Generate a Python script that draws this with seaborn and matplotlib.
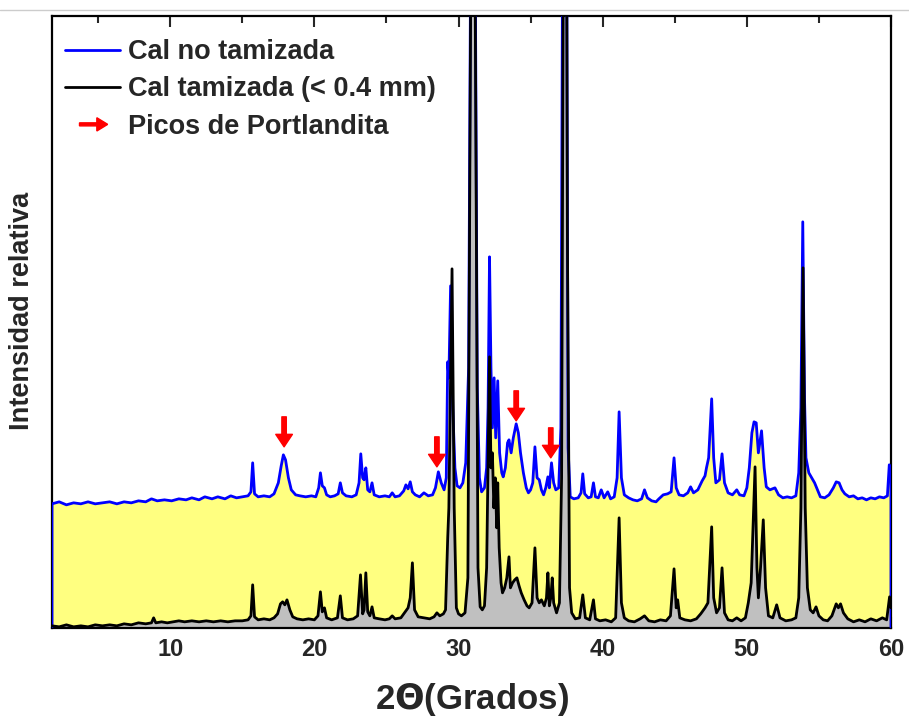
import numpy as np
import pandas as pd
import seaborn as sns
import matplotlib.pyplot as plt
import matplotlib.patches as mpatches
from matplotlib.lines import Line2D
from matplotlib.legend_handler import HandlerPatch

# Cal no tamizada (blue), two-theta in degrees and relative intensity
blue_x = [1.8, 2.3, 2.8, 3.3, 3.8, 4.3, 4.8, 5.3, 5.8, 6.3, 6.8, 7.3, 7.8, 8.3, 8.7, 9.1, 9.6, 10.1, 10.6, 11.1,
          11.5, 12.0, 12.4, 12.9, 13.3, 13.8, 14.2, 14.6, 15.0, 15.4, 15.6, 15.72, 15.85, 16.1, 16.5, 16.9, 17.2,
          17.5, 17.7, 17.85, 18.0, 18.2, 18.4, 18.7, 19.0, 19.4, 19.8, 20.1, 20.3, 20.42, 20.55, 20.7, 20.85, 21.1,
          21.4, 21.65, 21.8, 21.95, 22.2, 22.6, 22.9, 23.1, 23.22, 23.35, 23.45, 23.57, 23.7, 23.85, 24.0, 24.15,
          24.5, 24.9, 25.2, 25.4, 25.6, 25.9, 26.2, 26.35, 26.5, 26.65, 26.8, 27.0, 27.3, 27.6, 27.9, 28.2, 28.4,
          28.6, 28.8, 29.0, 29.15, 29.25, 29.33, 29.45, 29.6, 29.75, 29.9, 30.1, 30.3, 30.5, 30.7, 30.85, 31.0,
          31.15, 31.3, 31.45, 31.6, 31.8, 31.95, 32.05, 32.15, 32.25, 32.35, 32.47, 32.58, 32.72, 32.85, 33.0,
          33.1, 33.25, 33.4, 33.5, 33.65, 33.8, 34.0, 34.15, 34.3, 34.5, 34.7, 34.85, 35.0, 35.15, 35.3, 35.45,
          35.6, 35.75, 35.9, 36.05, 36.2, 36.3, 36.45, 36.6, 36.75, 36.95, 37.1, 37.25, 37.35, 37.5, 37.6, 37.75,
          38.0, 38.3, 38.5, 38.62, 38.75, 39.0, 39.2, 39.36, 39.5, 39.7, 39.9, 40.1, 40.35, 40.55, 40.8, 41.0,
          41.14, 41.3, 41.5, 41.8, 42.1, 42.4, 42.7, 42.9, 43.1, 43.4, 43.7, 43.9, 44.2, 44.5, 44.75, 44.95, 45.1,
          45.3, 45.6, 45.9, 46.1, 46.3, 46.6, 46.9, 47.1, 47.2, 47.35, 47.56, 47.7, 47.85, 48.1, 48.28, 48.45,
          48.7, 49.0, 49.3, 49.5, 49.8, 50.0, 50.17, 50.35, 50.5, 50.65, 50.8, 51.02, 51.2, 51.35, 51.6, 51.95,
          52.2, 52.5, 52.8, 53.1, 53.4, 53.6, 53.75, 53.88, 54.0, 54.1, 54.3, 54.5, 54.7, 54.9, 55.1, 55.4, 55.7,
          56.0, 56.2, 56.4, 56.6, 56.8, 57.1, 57.4, 57.7, 58.0, 58.3, 58.6, 58.9, 59.2, 59.5, 59.75, 59.88, 60.0]
blue_y = [124, 126, 123, 125, 124, 126, 124, 125, 126, 124, 126, 125, 127, 126, 129, 127, 128, 127, 129, 128,
          130, 128, 131, 129, 131, 129, 132, 130, 131, 132, 136, 165, 134, 131, 132, 131, 134,
          145, 162, 173, 168, 150, 138, 133, 132, 131, 132, 131, 140, 155, 142, 140, 133, 131,
          132, 134, 145, 135, 132, 131, 133, 145, 174, 150, 148, 160, 138, 136, 145, 133,
          131, 132, 131, 135, 131, 132, 137, 143, 139, 146, 136, 133, 131, 135, 132, 133, 140,
          156, 145, 138, 150, 266, 250, 342, 220, 160, 142, 140, 145, 165, 260, 700, 1200,
          700, 240, 150, 136, 140, 160, 220, 371, 260, 200, 250, 190, 247, 175, 155,
          151, 160, 185, 188, 175, 190, 204, 195, 175, 155, 140, 135, 138, 145, 181, 150,
          148, 138, 133, 140, 151, 140, 165, 145, 138, 140, 200, 800, 1400, 700, 180, 131,
          129, 130, 135, 154, 134, 130, 131, 145, 131, 130, 138, 130, 136, 129, 131, 150,
          216, 150, 133, 130, 128, 127, 129, 138, 130, 127, 126, 129, 133, 134, 136, 170, 140,
          133, 132, 135, 141, 135, 138, 147, 152, 160, 170, 229, 170, 145, 148, 174, 145,
          135, 133, 138, 133, 132, 140, 160, 195, 206, 205, 175, 197, 160, 141, 138, 140,
          133, 130, 131, 130, 132, 155, 220, 406, 230, 170, 155, 150, 145, 138, 131, 130, 133,
          140, 146, 145, 138, 134, 131, 132, 129, 130, 128, 130, 129, 131, 130, 132, 163, 160]

# Cal tamizada (< 0.4 mm) (black)
black_x = [1.8, 2.3, 2.8, 3.3, 3.8, 4.3, 4.8, 5.3, 5.8, 6.3, 6.8, 7.3, 7.8, 8.3, 8.7, 8.85, 9.0, 9.4, 9.8, 10.2,
           10.6, 11.0, 11.5, 12.0, 12.5, 13.0, 13.5, 14.0, 14.5, 15.0, 15.4, 15.6, 15.72, 15.85, 16.1, 16.5, 16.9,
           17.2, 17.45, 17.65, 17.8, 17.95, 18.1, 18.3, 18.5, 18.8, 19.2, 19.6, 20.0, 20.25, 20.42, 20.55, 20.7,
           20.85, 21.2, 21.6, 21.8, 21.95, 22.3, 22.7, 23.0, 23.2, 23.35, 23.45, 23.57, 23.7, 23.85, 24.0, 24.15,
           24.5, 24.9, 25.2, 25.4, 25.6, 26.0, 26.3, 26.5, 26.65, 26.8, 26.95, 27.2, 27.6, 28.0, 28.3, 28.5, 28.7,
           28.95, 29.1, 29.25, 29.33, 29.45, 29.55, 29.7, 29.85, 30.0, 30.2, 30.45, 30.65, 30.8, 31.0, 31.2,
           31.35, 31.5, 31.65, 31.8, 31.95, 32.15, 32.25, 32.35, 32.45, 32.55, 32.65, 32.72, 32.82, 32.95, 33.05,
           33.2, 33.35, 33.5, 33.6, 33.75, 33.9, 34.05, 34.2, 34.35, 34.55, 34.75, 34.9, 35.1, 35.3, 35.45, 35.6,
           35.75, 35.95, 36.1, 36.2, 36.3, 36.4, 36.5, 36.6, 36.8, 37.0, 37.15, 37.3, 37.4, 37.55, 37.7, 37.85,
           38.1, 38.4, 38.62, 38.8, 39.1, 39.36, 39.5, 39.8, 40.2, 40.6, 40.9, 41.14, 41.3, 41.5, 41.8, 42.2, 42.6,
           42.9, 43.2, 43.6, 44.0, 44.4, 44.7, 44.95, 45.1, 45.2, 45.35, 45.7, 46.1, 46.5, 46.8, 47.1, 47.3, 47.56,
           47.7, 47.9, 48.1, 48.28, 48.45, 48.7, 49.0, 49.3, 49.6, 49.9, 50.1, 50.3, 50.57, 50.7, 50.8, 50.95,
           51.14, 51.3, 51.5, 51.8, 52.07, 52.3, 52.7, 53.1, 53.4, 53.6, 53.75, 53.9, 54.05, 54.2, 54.4, 54.6,
           54.8, 55.0, 55.3, 55.6, 55.9, 56.2, 56.35, 56.5, 56.7, 57.0, 57.4, 57.8, 58.2, 58.6, 59.0, 59.4, 59.7,
           59.9, 60.0]
black_y = [2, 1, 3, 1, 2, 1, 3, 2, 3, 2, 4, 3, 5, 4, 5, 10, 5, 6, 5, 6,
           7, 6, 7, 6, 7, 6, 7, 6, 7, 7, 8, 12, 43, 11, 8, 9, 8,
           10, 14, 24, 26, 23, 28, 18, 11, 9, 8, 9, 8, 12, 36, 16, 20,
           10, 8, 10, 32, 10, 8, 9, 12, 53, 14, 18, 55, 16, 12, 21, 10,
           9, 8, 9, 12, 9, 10, 16, 20, 30, 65, 18, 11, 10, 9, 11, 15, 12,
           14, 18, 90, 120, 250, 359, 120, 20, 14, 12, 15, 50, 500, 1100, 500,
           60, 21, 18, 22, 60, 271, 160, 175, 120, 150, 100, 145, 80, 45, 35,
           40, 50, 71, 40, 45, 48, 50, 42, 35, 28, 22, 20, 25, 80, 30, 25,
           28, 22, 30, 55, 22, 30, 50, 25, 15, 25, 150, 800, 1300, 400, 40, 15,
           9, 10, 33, 10, 8, 28, 9, 7, 8, 6, 10, 110, 25, 10, 7, 6, 9,
           12, 7, 6, 8, 7, 12, 59, 20, 28, 10, 8, 7, 9, 14, 20, 25, 101,
           30, 15, 20, 60, 15, 8, 7, 10, 7, 10, 25, 45, 161, 60, 30, 60,
           108, 40, 12, 10, 23, 10, 7, 8, 10, 30, 120, 360, 120, 40, 18, 15,
           21, 12, 8, 7, 12, 24, 20, 24, 15, 9, 6, 8, 6, 9, 7, 10, 8,
           31, 20]

# Portlandite peaks marked with red arrows (position, arrow tip height)
arrow_x = [17.9, 28.5, 34.0, 36.4]
arrow_tip = [181, 161, 207, 170]
arrow_len = 30

x_ticks = [10, 20, 30, 40, 50, 60]

sns.set_style('ticks')
plt.rcParams['font.family'] = ['Liberation Sans', 'DejaVu Sans']
plt.rcParams['font.weight'] = 'bold'

fig = plt.figure(figsize=(9.09, 7.2), dpi=100)
ax = fig.add_axes([0.0572, 0.128, 0.923, 0.85])

blue_df = pd.DataFrame({'x': [blue_x[0]] + blue_x + [blue_x[-1]],
                        'y': [0] + blue_y + [0]})
black_df = pd.DataFrame({'x': black_x, 'y': black_y})

ax.fill_between(blue_x, blue_y, 0, color='#ffff80', lw=0, zorder=1)
ax.fill_between(black_x, black_y, 0, color='#c0c0c0', lw=0, zorder=2)
sns.lineplot(data=blue_df, x='x', y='y', sort=False, estimator=None, color='#0000ff', lw=2.0, ax=ax, zorder=3)
sns.lineplot(data=black_df, x='x', y='y', sort=False, estimator=None, color='black', lw=2.0, ax=ax, zorder=4)

for xa, tip in zip(arrow_x, arrow_tip):
    ax.annotate('', xy=(xa, tip), xytext=(xa, tip + arrow_len),
                arrowprops=dict(arrowstyle='simple,head_width=0.6,head_length=0.45,tail_width=0.16',
                                color='red', shrinkA=0, shrinkB=0, mutation_scale=20), zorder=5)

ax.set_xlim(1.8, 60)
ax.set_ylim(0, 612)
ax.set_xticks(x_ticks)
ax.set_xticks(np.arange(5, 60, 5), minor=True)
ax.set_yticks([])
ax.tick_params(axis='x', which='major', direction='in', top=True, bottom=True, length=8, width=1.5,
               labelsize=17, pad=7)
ax.tick_params(axis='x', which='minor', direction='in', top=True, bottom=True, length=5, width=1.5)
for lab in ax.get_xticklabels():
    lab.set_fontweight('bold')
for sp in ax.spines.values():
    sp.set_visible(True)
    sp.set_linewidth(1.6)
    sp.set_color('black')

ax.set_xlabel(r'2$\Theta$(Grados)', fontsize=25, fontweight='bold', labelpad=15)
ax.set_ylabel('Intensidad relativa', fontsize=19.5, fontweight='bold')
ax.yaxis.set_label_coords(-0.0205, 0.518)


def make_arrow(legend, orig_handle, xdescent, ydescent, width, height, fontsize):
    return mpatches.FancyArrow(0.26 * width - xdescent, 0.5 * height - ydescent, 0.52 * width, 0,
                               width=2.2, head_width=0.7 * height, head_length=0.2 * width,
                               length_includes_head=True, color='red')


handles = [Line2D([], [], color='#0000ff', lw=2.0),
           Line2D([], [], color='black', lw=2.0),
           mpatches.FancyArrow(0, 0, 1, 0, color='red')]
labels = ['Cal no tamizada', 'Cal tamizada (< 0.4 mm)', 'Picos de Portlandita']
ax.legend(handles, labels, loc='upper left', bbox_to_anchor=(0.016, 0.962), frameon=False,
          prop={'size': 19.5, 'weight': 'bold'}, handlelength=2.0, handletextpad=0.3,
          labelspacing=0.42, borderpad=0, borderaxespad=0,
          handler_map={mpatches.FancyArrow: HandlerPatch(patch_func=make_arrow)})

fig.add_artist(Line2D([0, 1], [0.986, 0.986], color='#cccccc', lw=1, transform=fig.transFigure))

fig.savefig('out.png', dpi=100)
